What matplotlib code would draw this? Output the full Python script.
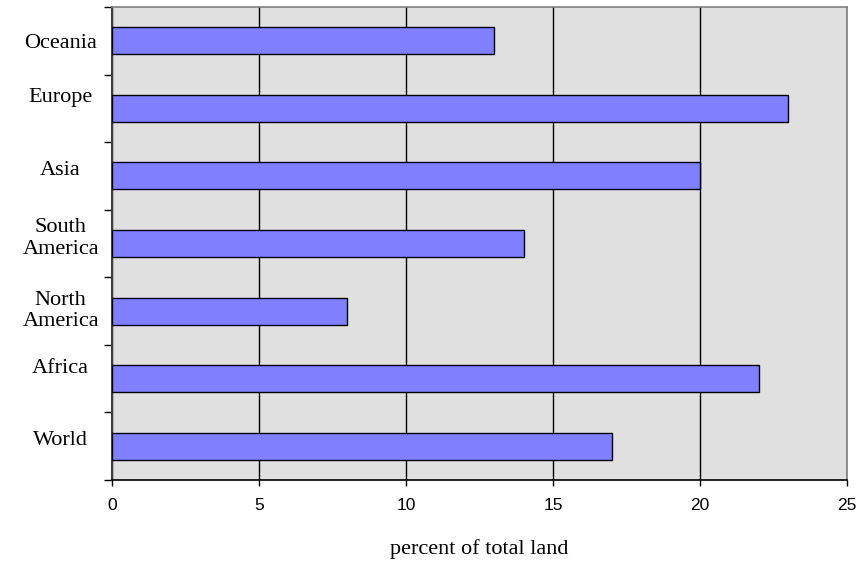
import matplotlib
matplotlib.use("Agg")
import matplotlib.pyplot as plt
import matplotlib.transforms as mtransforms
import numpy as np

regions = ["Oceania", "Europe", "Asia", "South\nAmerica", "North\nAmerica", "Africa", "World"]
percent_land = [13, 23, 20, 14, 8, 22, 17]
x_ticks = [0, 5, 10, 15, 20, 25]

# the labels in the original sit a little above their bars, unevenly (pixels)
label_nudge = [0, 13, 8, 9, 4, 13, 8]

SERIF = ["Liberation Serif", "DejaVu Serif"]
SANS = ["Liberation Sans", "DejaVu Sans"]

fig = plt.figure(figsize=(8.65, 5.65), dpi=100)
ax = fig.add_axes([112 / 865, 85 / 565, 735 / 865, 473 / 565])
ax.set_facecolor("#e0e0e0")

n = len(regions)
pos = np.arange(n)
ax.barh(pos, percent_land, height=0.4, color="#8080ff", edgecolor="black", linewidth=1.0, zorder=3)

ax.set_xlim(0, 25)
ax.set_ylim(n - 0.5, -0.5)
ax.set_xticks(x_ticks)
ax.set_xticklabels([str(t) for t in x_ticks], family=SANS, fontsize=12.5)
ax.xaxis.grid(True, color="black", linewidth=1.0, zorder=1)
ax.tick_params(axis="x", length=4, width=1, direction="out", pad=9)

# ticks on category boundaries, labels centred on the category
ax.set_yticks(np.arange(n + 1) - 0.5)
ax.set_yticklabels([])
ax.tick_params(axis="y", which="major", length=6, width=1, direction="out")
ax.set_yticks(pos, minor=True)
ax.set_yticklabels(regions, minor=True, family=SERIF, fontsize=16, ha="center", linespacing=1.2)
ax.tick_params(axis="y", which="minor", length=0, pad=37)
for lab, dy in zip(ax.get_yticklabels(minor=True), label_nudge):
    shift = mtransforms.ScaledTranslation(0, dy / 100, fig.dpi_scale_trans)
    lab.set_transform(lab.get_transform() + shift)

for side in ("top", "right"):
    ax.spines[side].set_color("#808080")
    ax.spines[side].set_linewidth(1.2)
ax.spines["left"].set_color("#404040")
ax.spines["left"].set_linewidth(1.5)
ax.spines["bottom"].set_color("black")
ax.spines["bottom"].set_linewidth(1.2)

ax.set_xlabel("percent of total land", family=SERIF, fontsize=16, labelpad=19)

fig.savefig("out.png", dpi=100)
